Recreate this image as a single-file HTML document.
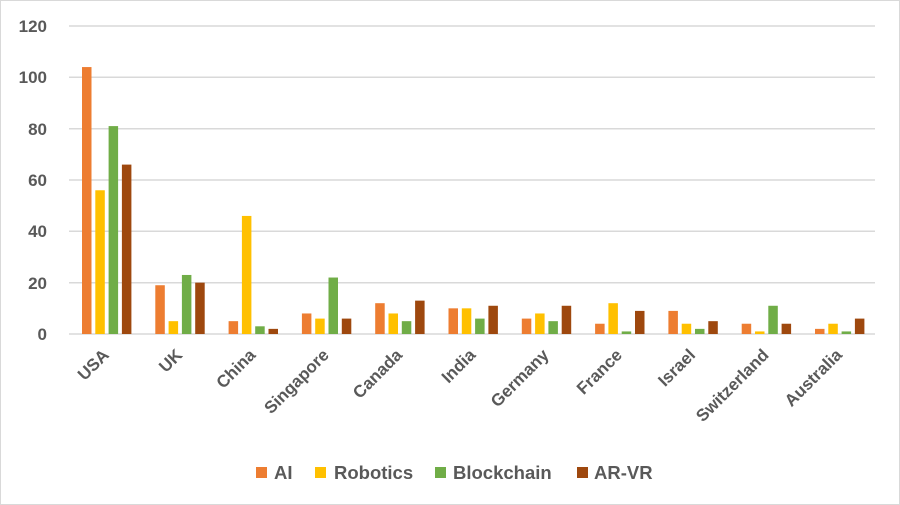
<!DOCTYPE html>
<html><head><style>body{margin:0;background:#fff}svg{display:block}</style></head><body>
<svg width="900" height="505" xmlns="http://www.w3.org/2000/svg" font-family="Liberation Sans, sans-serif">
<rect x="0.5" y="0.5" width="899" height="504" fill="#fff" stroke="#d9d9d9"/>
<g stroke="#d9d9d9" stroke-width="1.5">
<line x1="69" x2="875" y1="334" y2="334"/><line x1="69" x2="875" y1="282.7" y2="282.7"/>
<line x1="69" x2="875" y1="231.3" y2="231.3"/><line x1="69" x2="875" y1="180" y2="180"/>
<line x1="69" x2="875" y1="128.7" y2="128.7"/><line x1="69" x2="875" y1="77.3" y2="77.3"/>
<line x1="69" x2="875" y1="26" y2="26"/>
</g>
<g fill="#595959" font-size="17" font-weight="bold" text-anchor="end">
<text x="47" y="340">0</text><text x="47" y="289">20</text><text x="47" y="237">40</text>
<text x="47" y="186">60</text><text x="47" y="135">80</text><text x="47" y="83">100</text><text x="47" y="32">120</text>
</g>
<g id="bars"></g>
<g id="labels" fill="#595959" font-size="17" font-weight="bold" text-anchor="end"></g>
<g font-size="18.5" font-weight="bold" fill="#595959">
<rect x="256" y="467" width="11" height="11" fill="#ED7D31"/><text x="274" y="479">AI</text>
<rect x="315" y="467" width="11" height="11" fill="#FFC000"/><text x="334" y="479">Robotics</text>
<rect x="435" y="467" width="11" height="11" fill="#70AD47"/><text x="453" y="479">Blockchain</text>
<rect x="577" y="467" width="11" height="11" fill="#9E480E"/><text x="594" y="479">AR-VR</text>
</g>
<script>
var d=[["USA",104,56,81,66],["UK",19,5,23,20],["China",5,46,3,2],["Singapore",8,6,22,6],["Canada",12,8,5,13],["India",10,10,6,11],["Germany",6,8,5,11],["France",4,12,1,9],["Israel",9,4,2,5],["Switzerland",4,1,11,4],["Australia",2,4,1,6]];
var c=["#ED7D31","#FFC000","#70AD47","#9E480E"],ns="http://www.w3.org/2000/svg";
var b=document.getElementById("bars"),l=document.getElementById("labels");
d.forEach(function(r,i){var g=69+73.3*i;
for(var k=0;k<4;k++){var h=r[k+1]*2.5667,e=document.createElementNS(ns,"rect");
e.setAttribute("x",g+13+k*13.3);e.setAttribute("width",9.5);e.setAttribute("y",334-h);e.setAttribute("height",h);e.setAttribute("fill",c[k]);b.appendChild(e);}
var t=document.createElementNS(ns,"text"),cx=g+41,cy=356;
t.setAttribute("x",cx);t.setAttribute("y",cy);t.setAttribute("transform","rotate(-45 "+cx+" "+cy+")");t.textContent=r[0];l.appendChild(t);});
</script>
</svg>
</body></html>
